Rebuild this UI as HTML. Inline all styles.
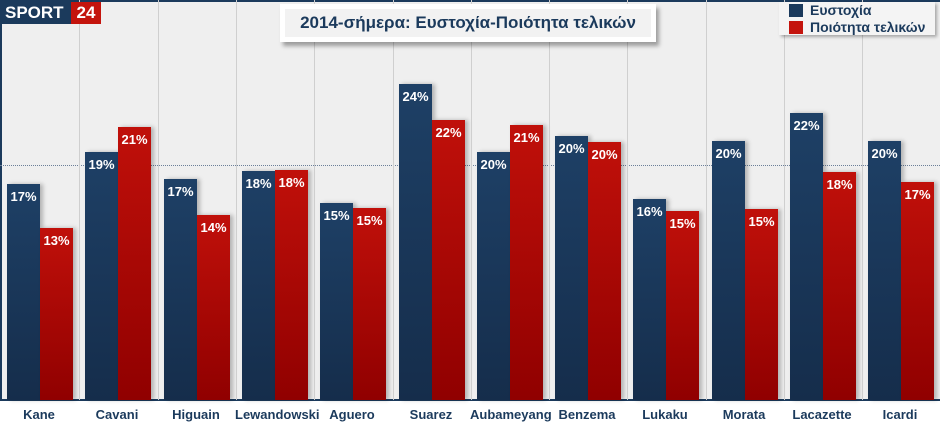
<!DOCTYPE html>
<html><head><meta charset="utf-8"><style>
body{margin:0;width:940px;height:426px;background:#fff;overflow:hidden;font-family:"Liberation Sans","DejaVu Sans",sans-serif}
.c{position:absolute;left:0;top:0;width:940px;height:401px;background:#efefef;border-top:2px solid #1b3a5c;border-left:2px solid #1b3a5c;box-sizing:border-box;border-bottom:2px solid #1b3a5c}
.g{position:absolute;top:0;height:400px;width:1px;background:#cfcfcf}
.b{position:absolute;width:33px;box-shadow:3px 0 4px rgba(0,0,0,.25);color:#fff;font-weight:bold;font-size:13px;text-align:center;box-sizing:border-box;padding-top:5px}
.u{background:linear-gradient(#1e4066,#152d4b)}
.r{background:linear-gradient(#c0100a,#900000)}
.l{position:absolute;top:407px;width:78px;text-align:center;font-weight:bold;font-size:13px;color:#1b3a5c}
</style></head><body>
<div class="c"></div>
<div style="position:absolute;left:0;top:165px;width:940px;border-top:1px dotted #6b7f99"></div>
<div id="x"></div>
<div style="position:absolute;left:2px;top:2px;height:22px;width:69px;background:#1b3a5c;color:#fff;font-weight:bold;font-size:17px;line-height:22px;padding-left:3px;box-sizing:border-box">SPORT</div>
<div style="position:absolute;left:71px;top:2px;height:22px;width:30px;background:#c4140d;color:#fff;font-weight:bold;font-size:17px;line-height:22px;text-align:center">24</div>
<div style="position:absolute;left:280px;top:4px;width:376px;height:38px;background:#fff;box-shadow:3px 4px 4px rgba(0,0,0,.35)"><div style="margin:5px;height:28px;background:#f2f2f2;color:#1b3a5c;font-weight:bold;font-size:17px;line-height:28px;text-align:center">2014-σήμερα: Ευστοχία-Ποιότητα τελικών</div></div>
<div style="position:absolute;left:779px;top:2px;width:156px;height:33px;background:#f4f4f4;box-shadow:2px 2px 3px rgba(0,0,0,.3);font-size:14px;font-weight:bold;color:#1b3a5c">
<div style="position:absolute;left:10px;top:2px;width:14px;height:13px;background:#1b3a5c"></div><div style="position:absolute;left:31px;top:0px">Ευστοχία</div>
<div style="position:absolute;left:10px;top:19px;width:14px;height:13px;background:#c4140d"></div><div style="position:absolute;left:31px;top:17px">Ποιότητα τελικών</div></div>
<script>
var d=[["Kane",184,228,17,13],["Cavani",152,127,19,21],["Higuain",179,215,17,14],["Lewandowski",171,170,18,18],["Aguero",203,208,15,15],["Suarez",84,120,24,22],["Aubameyang",152,125,20,21],["Benzema",136,142,20,20],["Lukaku",199,211,16,15],["Morata",141,209,20,15],["Lacazette",113,172,22,18],["Icardi",141,182,20,17]];
var h="";d.forEach(function(e,i){var x=Math.round(i*78.3);
if(i>0)h+='<div class="g" style="left:'+(x+1)+'px"></div>';
h+='<div class="b u" style="left:'+(x+7)+'px;top:'+e[1]+'px;height:'+(400-e[1])+'px">'+e[3]+'%</div>';
h+='<div class="b r" style="left:'+(x+40)+'px;top:'+e[2]+'px;height:'+(400-e[2])+'px">'+e[4]+'%</div>';
h+='<div class="l" style="left:'+x+'px">'+e[0]+'</div>';});
document.getElementById("x").innerHTML=h;
</script>
</body></html>
